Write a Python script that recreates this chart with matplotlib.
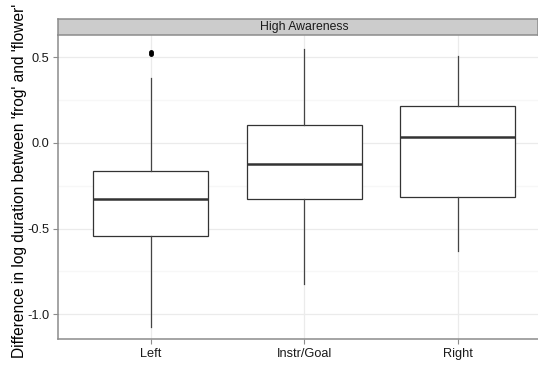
import matplotlib
matplotlib.use("Agg")
import matplotlib.pyplot as plt

categories = ["Left", "Instr/Goal", "Right"]
q1 = [-0.545, -0.330, -0.316]
med = [-0.326, -0.126, 0.034]
q3 = [-0.165, 0.102, 0.213]
whislo = [-1.074, -0.821, -0.631]
whishi = [0.376, 0.545, 0.504]
fliers = [[0.519, 0.531], [], []]
yticks = [-1.0, -0.5, 0.0, 0.5]
ytick_labels = ["-1.0", "-0.5", "0.0", "0.5"]
minor_ticks = [-0.75, -0.25, 0.25]
strip_title = "High Awareness"
ylabel = "Difference in log duration between 'frog' and 'flower'"

plt.rcParams['font.family'] = ['Liberation Sans', 'DejaVu Sans']

W, H = 538, 365
fig = plt.figure(figsize=(W / 100, H / 100), dpi=100)

left_px, right_px = 58, 538
top_px, bot_px = 34.5, 339.3
strip_top = 19.2

ax = fig.add_axes([left_px / W, 1 - bot_px / H, (right_px - left_px) / W, (bot_px - top_px) / H])
sax = fig.add_axes([left_px / W, 1 - top_px / H, (right_px - left_px) / W, (top_px - strip_top) / H])

stats = []
for i, c in enumerate(categories):
    stats.append(dict(label=c, med=med[i], q1=q1[i], q3=q3[i],
                      whislo=whislo[i], whishi=whishi[i], fliers=fliers[i]))

positions = list(range(1, len(categories) + 1))
ax.bxp(stats, positions=positions, widths=0.75, showcaps=False, patch_artist=True,
       boxprops=dict(facecolor='white', edgecolor='#333333', linewidth=0.9),
       whiskerprops=dict(color='#444444', linewidth=0.9),
       medianprops=dict(color='#333333', linewidth=1.8),
       flierprops=dict(marker='o', markerfacecolor='black', markeredgecolor='black',
                       markersize=2.5, linestyle='none'),
       zorder=3)

xlim = (0.3935, 3.524)
ax.set_xlim(*xlim)
ax.set_ylim(-1.146, 0.632)

ax.set_yticks(yticks)
ax.set_yticklabels(ytick_labels)
ax.set_yticks(minor_ticks, minor=True)
ax.set_xticks(positions)
ax.set_xticklabels(categories)

ax.grid(True, which='major', color='#EBEBEB', linewidth=0.9, zorder=0)
ax.grid(True, which='minor', axis='y', color='#F7F7F7', linewidth=0.9, zorder=0)
ax.set_axisbelow(True)

for s in ['top', 'right']:
    ax.spines[s].set_visible(False)
for s in ['left', 'bottom']:
    ax.spines[s].set_color('#8C8C8C')
    ax.spines[s].set_linewidth(1.1)

ax.tick_params(axis='both', which='major', length=3.5, width=0.8, color='#8C8C8C',
               labelsize=9.2, labelcolor='#1A1A1A', pad=2.5)
ax.tick_params(axis='both', which='minor', length=0)

ax.set_ylabel(ylabel, fontsize=11.2, color='black')
ax.yaxis.set_label_coords(-0.065, 0.52)

sax.set_xlim(*xlim)
sax.set_ylim(0, 1)
sax.set_facecolor('#CCCCCC')
sax.set_xticks([])
sax.set_yticks([])
for s in sax.spines.values():
    s.set_color('#8C8C8C')
    s.set_linewidth(1.1)
sax.text(2, 0.48, strip_title, ha='center', va='center', fontsize=8.8, color='#1A1A1A')

fig.savefig("out.png", dpi=100)
